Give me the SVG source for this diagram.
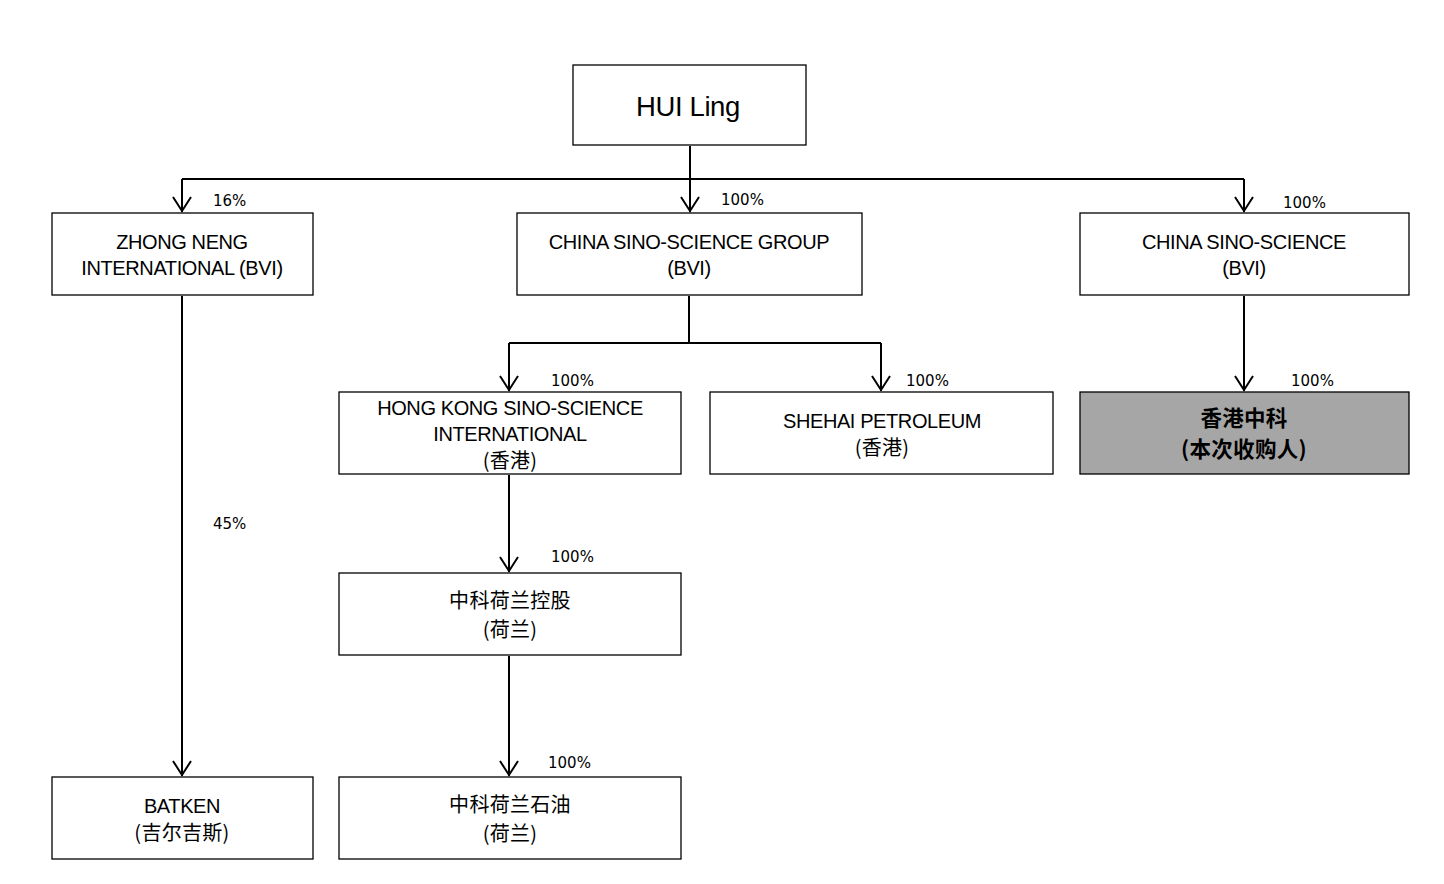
<svg xmlns="http://www.w3.org/2000/svg" width="1444" height="884" viewBox="0 0 1444 884">
<defs>
<style>
.box{fill:#fff;stroke:#000;stroke-width:1.3}
.hl{fill:#a6a6a6;stroke:#000;stroke-width:1.3}
.t{font-family:"Liberation Sans","Noto Sans CJK SC",sans-serif;font-size:20px;fill:#000;text-anchor:middle;letter-spacing:-0.4px}
.z{font-family:"Noto Sans CJK SC",sans-serif;font-size:20px;letter-spacing:0.3px}
.b{font-weight:bold;font-size:21.5px}
.p{font-family:"DejaVu Sans","Noto Sans CJK SC",sans-serif;font-size:15px;fill:#000}
.c{fill:none;stroke:#000;stroke-width:2}
</style>
</defs>
<rect width="1444" height="884" fill="#fff"/>
<g id="connectors">
<path class="c" d="M690 146V212M182 179H1244M182 179V212M1244 179V212"/>
<path class="c" d="M689 296V343M509 343H881M509 343V391M881 343V391"/>
<path class="c" d="M1244 296V391M182 296V776M509 475V572M509 656V776"/>
<g class="c">
<path d="M681 197L690 211L699 197"/>
<path d="M173 197L182 211L191 197"/>
<path d="M1235 197L1244 211L1253 197"/>
<path d="M500 376L509 390L518 376"/>
<path d="M872 376L881 390L890 376"/>
<path d="M1235 376L1244 390L1253 376"/>
<path d="M500 557L509 571L518 557"/>
<path d="M173 761L182 775L191 761"/>
<path d="M500 761L509 775L518 761"/>
</g>
<text class="p" x="213" y="206">16%</text>
<text class="p" x="721" y="205">100%</text>
<text class="p" x="1283" y="208">100%</text>
<text class="p" x="551" y="386">100%</text>
<text class="p" x="906" y="386">100%</text>
<text class="p" x="1291" y="386">100%</text>
<text class="p" x="213" y="529">45%</text>
<text class="p" x="551" y="562">100%</text>
<text class="p" x="548" y="768">100%</text>
</g>
<g id="n-hui">
<rect class="box" x="573" y="65" width="233" height="80"/>
<text class="t" x="688" y="116" style="font-size:27.5px">HUI Ling</text>
</g>
<g id="n-zhong">
<rect class="box" x="52" y="213" width="261" height="82"/>
<text class="t" x="182" y="249">ZHONG NENG<tspan x="182" dy="26">INTERNATIONAL (BVI)</tspan></text>
</g>
<g id="n-csg">
<rect class="box" x="517" y="213" width="345" height="82"/>
<text class="t" x="689" y="249">CHINA SINO-SCIENCE GROUP<tspan x="689" dy="26">(BVI)</tspan></text>
</g>
<g id="n-cs">
<rect class="box" x="1080" y="213" width="329" height="82"/>
<text class="t" x="1244" y="249">CHINA SINO-SCIENCE<tspan x="1244" dy="26">(BVI)</tspan></text>
</g>
<g id="n-hk">
<rect class="box" x="339" y="392" width="342" height="82"/>
<text class="t" x="510" y="415">HONG KONG SINO-SCIENCE<tspan x="510" dy="26">INTERNATIONAL</tspan><tspan class="z" x="510" dy="27">(香港)</tspan></text>
</g>
<g id="n-shehai">
<rect class="box" x="710" y="392" width="343" height="82"/>
<text class="t" x="882" y="428">SHEHAI PETROLEUM<tspan class="z" x="882" dy="27">(香港)</tspan></text>
</g>
<g id="n-hkzk">
<rect class="hl" x="1080" y="392" width="329" height="82"/>
<text class="t z b" x="1244" y="426">香港中科<tspan x="1244" dy="31">(本次收购人)</tspan></text>
</g>
<g id="n-zkhl">
<rect class="box" x="339" y="573" width="342" height="82"/>
<text class="t z" x="510" y="608">中科荷兰控股<tspan x="510" dy="29">(荷兰)</tspan></text>
</g>
<g id="n-batken">
<rect class="box" x="52" y="777" width="261" height="82"/>
<text class="t" x="182" y="813">BATKEN<tspan class="z" x="182" dy="27">(吉尔吉斯)</tspan></text>
</g>
<g id="n-zksy">
<rect class="box" x="339" y="777" width="342" height="82"/>
<text class="t z" x="510" y="812">中科荷兰石油<tspan x="510" dy="29">(荷兰)</tspan></text>
</g>
</svg>
